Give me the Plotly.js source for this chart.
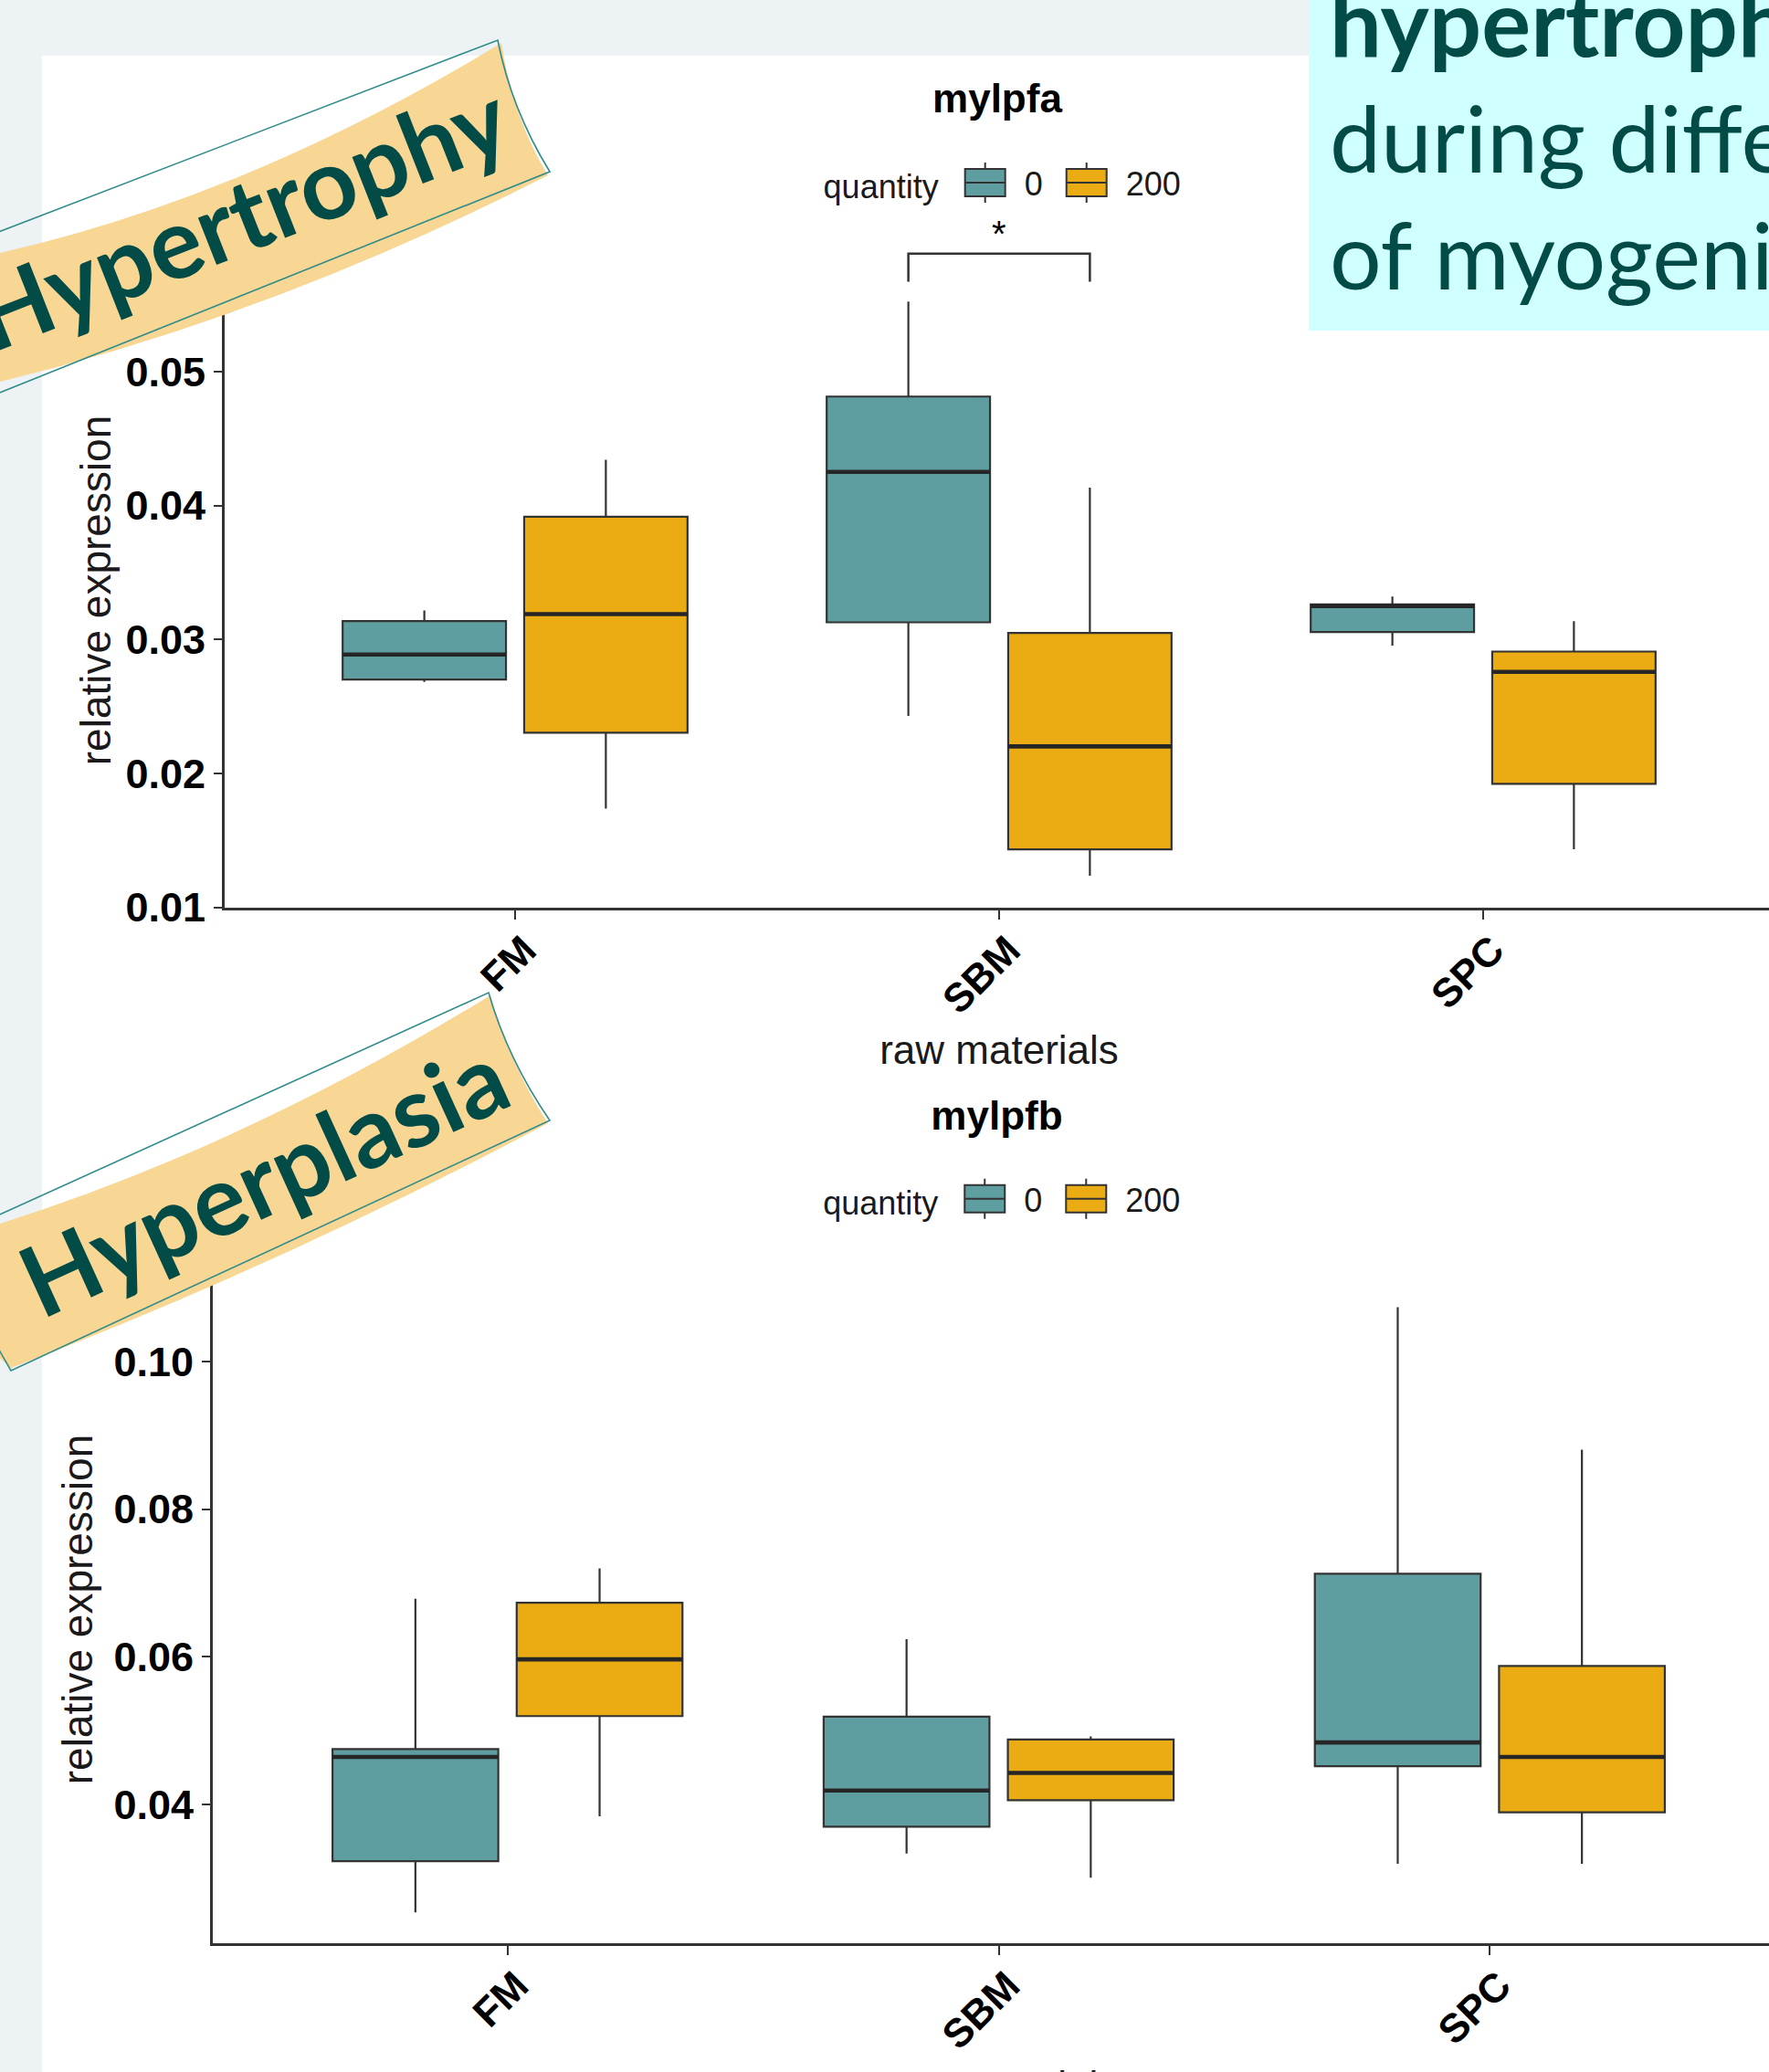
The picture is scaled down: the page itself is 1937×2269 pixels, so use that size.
<!DOCTYPE html>
<html>
<head>
<meta charset="utf-8">
<script src="https://cdn.plot.ly/plotly-3.0.1.min.js"></script>
<style>
html,body{margin:0;padding:0;width:1937px;height:2269px;overflow:hidden;background:#EDF2F4;}
#panel{position:absolute;left:46px;top:61px;width:1891px;height:2208px;background:#ffffff;}
#topChart{position:absolute;left:0;top:0;width:1950px;height:1200px;}
#botChart{position:absolute;left:0;top:1150px;width:1960px;height:1200px;}
#deco{position:absolute;left:0;top:0;pointer-events:none;}
</style>
</head>
<body>
<div id="panel"></div>
<div id="topChart"></div>
<div id="botChart"></div>
<svg id="deco" width="1937" height="2269" xmlns="http://www.w3.org/2000/svg">
  <rect x="1433" y="0" width="504" height="362" fill="#CFFFFF"/>
  <g font-family="Lato, 'Open Sans', sans-serif" fill="#034B47">
    <text x="1456" y="62" font-size="101" font-weight="700">hypertrophy</text>
    <text x="1456" y="189" font-size="100">during differentiation</text>
    <text x="1456" y="317" font-size="100">of myogenic</text>
  </g>
  <!-- banner: Hypertrophy -->
  <path d="M-20,282 L0,277 Q273,215 549,47 Q562,130 600,192 Q300,345 0,418 L-20,423 Z" fill="#F8D694"/>
  <path d="M-20,261 L545,44 Q560,120 602,188 L-20,438" fill="none" stroke="#2F8C8A" stroke-width="1.6"/>
  <text x="278" y="274" text-anchor="middle" transform="rotate(-21.5 278 274)"
        font-family="Lato, 'Open Sans', sans-serif" font-weight="700" font-size="108" fill="#034B47">Hypertrophy</text>
  <!-- banner: Hyperplasia -->
  <path d="M-20,1348 L0,1340 Q268,1255 537,1090 Q558,1165 600,1230 Q306,1386 12,1498 L-20,1470 Z" fill="#F8D694"/>
  <path d="M-20,1339 L535,1087 Q556,1160 602,1227 L12,1501 L-20,1445" fill="none" stroke="#2F8C8A" stroke-width="1.6"/>
  <text x="305" y="1327" text-anchor="middle" transform="rotate(-24.5 305 1327)"
        font-family="Lato, 'Open Sans', sans-serif" font-weight="700" font-size="108" fill="#034B47">Hyperplasia</text>
</svg>
<script>
// ---------------- data ----------------
const categories = ['FM', 'SBM', 'SPC'];
const quantityLevels = ['0', '200'];

// mylpfa (top panel)
const a0_lower  = [0.02683, 0.02429, 0.02954];
const a0_q1     = [0.02701, 0.03128, 0.03055];
const a0_median = [0.02888, 0.04251, 0.03250];
const a0_q3     = [0.03137, 0.04813, 0.03262];
const a0_upper  = [0.03217, 0.05522, 0.03321];

const a200_lower  = [0.01737, 0.01236, 0.01434];
const a200_q1     = [0.02304, 0.01433, 0.01922];
const a200_median = [0.03189, 0.02202, 0.02758];
const a200_q3     = [0.03916, 0.03049, 0.02910];
const a200_upper  = [0.04341, 0.04133, 0.03137];

// mylpfb (bottom panel)
const b0_lower  = [0.02536, 0.03336, 0.03196];
const b0_q1     = [0.03232, 0.03699, 0.04518];
const b0_median = [0.04643, 0.04189, 0.04839];
const b0_q3     = [0.04750, 0.05189, 0.07125];
const b0_upper  = [0.06786, 0.06238, 0.10732];

const b200_lower  = [0.03839, 0.03007, 0.03196];
const b200_q1     = [0.05196, 0.04057, 0.03893];
const b200_median = [0.05964, 0.04427, 0.04643];
const b200_q3     = [0.06732, 0.04880, 0.05875];
const b200_upper  = [0.07196, 0.04921, 0.08804];

// axis ticks
const yTicksA = [0.01, 0.02, 0.03, 0.04, 0.05];
const yTicksB = [0.04, 0.06, 0.08, 0.10];

// significance bracket (top panel)
const sigCategory = 'SBM';
const sigBarY = 0.0588;
const sigTipY = 0.0567;
const sigLabel = '*';

// ---------------- style ----------------
const COL0 = '#5F9EA0';
const COL200 = '#EAAC12';
const LINE = '#333333';
const FONT = 'Liberation Sans, Arial, Helvetica, sans-serif';
const BOXGAP = 0.25, BOXGROUPGAP = 0.1;

function boxTrace(name, fill, lo, q1, med, q3, hi) {
  return {
    type: 'box', name: name, x: categories,
    lowerfence: lo, q1: q1, median: med, q3: q3, upperfence: hi,
    boxpoints: false, whiskerwidth: 0,
    fillcolor: fill, line: {color: LINE, width: 2.2},
    hoverinfo: 'skip'
  };
}

// thicker median bars (ggplot style), positioned on the category axis from the median arrays
function medianShapes(medians0, medians200) {
  const off = 0.25 * (1 - BOXGAP);
  const hw = 0.5 * (1 - BOXGAP) * (1 - BOXGROUPGAP) / 2;
  const shapes = [];
  [[medians0, -1], [medians200, 1]].forEach(function (pair) {
    pair[0].forEach(function (m, i) {
      const c = i + pair[1] * off;
      shapes.push({type: 'line', xref: 'x', yref: 'y', x0: c - hw, x1: c + hw, y0: m, y1: m,
                   line: {color: '#262626', width: 4.6}, layer: 'above'});
    });
  });
  return shapes;
}

function baseLayout(o) {
  return {
    width: o.width, height: o.height,
    margin: {l: o.l, r: o.r, t: o.t, b: o.b, autoexpand: false},
    paper_bgcolor: 'rgba(0,0,0,0)', plot_bgcolor: 'rgba(0,0,0,0)',
    font: {family: FONT, color: '#000'},
    hovermode: false,
    title: {text: o.title, x: 0.4988, xref: 'paper', xanchor: 'center',
            y: o.titleY, yref: 'container', yanchor: 'middle',
            font: {size: 44, weight: 'bold', color: '#000'}},
    boxmode: 'group', boxgap: BOXGAP, boxgroupgap: BOXGROUPGAP,
    showlegend: true,
    legend: {orientation: 'h', x: 0.503, xanchor: 'center', y: o.legendY, yanchor: 'middle',
             title: {text: 'quantity', side: 'left', font: {size: 36, color: '#1a1a1a'}},
             font: {size: 36, color: '#1a1a1a'}, itemwidth: 76,
             bgcolor: 'rgba(0,0,0,0)', itemclick: false, itemdoubleclick: false},
    xaxis: {type: 'category', range: [-0.6, 2.6], categoryorder: 'array', categoryarray: categories,
            showline: true, linecolor: LINE, linewidth: 3, mirror: false,
            ticks: 'outside', ticklen: 10, tickwidth: 2, tickcolor: LINE,
            tickangle: -45, tickfont: {size: 44, weight: 'bold', color: '#000'},
            ticklabelstandoff: -10, ticklabelshift: 10,
            showgrid: false, zeroline: false,
            title: {text: 'raw materials', font: {size: 44, color: '#1a1a1a'}, standoff: 17}},
    yaxis: {range: o.yRange, tickvals: o.yTicks, tickformat: '.2f',
            showline: true, linecolor: LINE, linewidth: 3,
            ticks: 'outside', ticklen: 9, tickwidth: 2, tickcolor: LINE,
            tickfont: {size: 45, weight: 'bold', color: '#000'},
            showgrid: false, zeroline: false,
            title: {text: 'relative expression', font: {size: 46, color: '#1a1a1a'}, standoff: o.yStandoff}},
    shapes: [], annotations: []
  };
}

function enlargeLegendIcons(gd) {
  gd.querySelectorAll('.legend path.legendbox').forEach(function (p) {
    p.setAttribute('d', 'M22,15H-22V-15H22ZM-22,0H22M0,-15V-22M0,15V22');
    p.style.strokeWidth = '2px';
  });
}

const cfg = {staticPlot: true, displayModeBar: false};

// ---- top chart ----
const yRangeA = [0.00998, 0.05735];
const layoutA = baseLayout({width: 1950, height: 1200, l: 246, r: 8, t: 299, b: 206,
  title: 'mylpfa', titleY: 1 - 108 / 1200, legendY: 1.1424, yRange: yRangeA, yTicks: yTicksA, yStandoff: 2});

const xr = layoutA.xaxis.range;
const sigIdx = categories.indexOf(sigCategory);
const offA = 0.25 * (1 - BOXGAP);
const xp = v => (v - xr[0]) / (xr[1] - xr[0]);
const ypA = v => (v - yRangeA[0]) / (yRangeA[1] - yRangeA[0]);
const xL = xp(sigIdx - offA), xR = xp(sigIdx + offA);
layoutA.shapes = medianShapes(a0_median, a200_median);
layoutA.shapes.push({type: 'path', xref: 'paper', yref: 'paper',
  path: 'M' + xL + ',' + ypA(sigTipY) + ' L' + xL + ',' + ypA(sigBarY) +
        ' L' + xR + ',' + ypA(sigBarY) + ' L' + xR + ',' + ypA(sigTipY),
  line: {color: LINE, width: 2.5}});
layoutA.annotations.push({xref: 'paper', yref: 'paper', x: xp(sigIdx), y: ypA(sigBarY),
  yanchor: 'bottom', xanchor: 'center', text: sigLabel, showarrow: false,
  font: {size: 40, color: '#000'}, yshift: -2});

Plotly.newPlot('topChart', [
  boxTrace(quantityLevels[0], COL0, a0_lower, a0_q1, a0_median, a0_q3, a0_upper),
  boxTrace(quantityLevels[1], COL200, a200_lower, a200_q1, a200_median, a200_q3, a200_upper)
], layoutA, cfg).then(enlargeLegendIcons);

// ---- bottom chart ----
const yRangeB = [0.0212, 0.1116];
const layoutB = baseLayout({width: 1960, height: 1200, l: 233, r: 6, t: 247, b: 222,
  title: 'mylpfb', titleY: 1 - 72 / 1200, legendY: 1.115, yRange: yRangeB, yTicks: yTicksB, yStandoff: 9});
layoutB.shapes = medianShapes(b0_median, b200_median);

Plotly.newPlot('botChart', [
  boxTrace(quantityLevels[0], COL0, b0_lower, b0_q1, b0_median, b0_q3, b0_upper),
  boxTrace(quantityLevels[1], COL200, b200_lower, b200_q1, b200_median, b200_q3, b200_upper)
], layoutB, cfg).then(enlargeLegendIcons);
</script>
</body>
</html>
